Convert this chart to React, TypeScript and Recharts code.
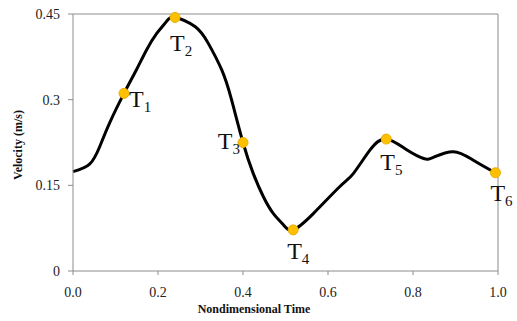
import {
  ComposedChart,
  Line,
  ReferenceLine,
  Scatter,
  XAxis,
  YAxis,
} from "recharts";

// velocity curve
const curveX = [0, 0.039, 0.063, 0.086, 0.12, 0.149, 0.173, 0.197, 0.22, 0.24, 0.287, 0.318, 0.35, 0.373, 0.4, 0.424, 0.448, 0.471, 0.495, 0.518, 0.566, 0.628, 0.66, 0.699, 0.737, 0.786, 0.825, 0.848, 0.895, 0.942, 0.994];
const curveY = [0.174, 0.187, 0.218, 0.259, 0.311, 0.352, 0.387, 0.416, 0.437, 0.444, 0.428, 0.399, 0.352, 0.3, 0.225, 0.171, 0.13, 0.101, 0.081, 0.072, 0.101, 0.148, 0.171, 0.212, 0.231, 0.212, 0.197, 0.199, 0.209, 0.194, 0.172];

// marked time instants T1..T6
const markNames = ["1", "2", "3", "4", "5", "6"];
const markX = [0.12, 0.24, 0.4, 0.518, 0.737, 0.994];
const markY = [0.311, 0.444, 0.225, 0.072, 0.231, 0.172];

const xTicks = [0, 0.2, 0.4, 0.6, 0.8, 1];
const yTicks = [0, 0.15, 0.3, 0.45];

const curve = curveX.map((x, i) => ({ x, v: curveY[i] }));
const marks = markX.map((x, i) => ({ x, v: markY[i], name: markNames[i] }));

// where each T label sits relative to its marker
const labelOffset: Record<string, { dx: number; dy: number; anchor: "start" | "end" }> = {
  "1": { dx: 5, dy: 14, anchor: "start" },
  "2": { dx: -5, dy: 34, anchor: "start" },
  "3": { dx: -3, dy: 6, anchor: "end" },
  "4": { dx: -6, dy: 29, anchor: "start" },
  "5": { dx: -6, dy: 31, anchor: "start" },
  "6": { dx: -5, dy: 28, anchor: "start" },
};

const serif = "Liberation Serif, serif";
const axisGray = "#8c8c8c";

function MarkShape(props: any) {
  const { cx, cy, payload } = props;
  const o = labelOffset[payload.name];
  return (
    <g>
      <circle cx={cx} cy={cy} r={5} fill="#FFC000" stroke="#E9AE00" strokeWidth={1} />
      <text
        x={cx + o.dx}
        y={cy + o.dy}
        textAnchor={o.anchor}
        fontFamily={serif}
        fontSize={24}
        fill="#111"
      >
        T
        <tspan fontSize={15} dy={5}>
          {payload.name}
        </tspan>
      </text>
    </g>
  );
}

const axisTitle = { fontFamily: serif, fontSize: 12, fontWeight: "bold", fill: "#111" } as const;

export default function App() {
  return (
    <div style={{ position: "absolute", left: 0, top: 0, background: "#fff" }}>
      <ComposedChart
        width={517}
        height={321}
        margin={{ top: 14, right: 19, bottom: 0, left: 0 }}
      >
        <XAxis
          dataKey="x"
          type="number"
          domain={[0, 1]}
          ticks={xTicks}
          tickFormatter={(t: number) => t.toFixed(1)}
          stroke={axisGray}
          tickSize={4}
          tickMargin={12}
          height={50}
          tick={{ fill: "#222", fontSize: 14, fontFamily: serif }}
          label={{
            content: () => (
              <text x={254} y={313} textAnchor="middle" {...axisTitle}>
                Nondimensional Time
              </text>
            ),
          }}
        />
        <YAxis
          dataKey="v"
          type="number"
          domain={[0, 0.45]}
          ticks={yTicks}
          stroke={axisGray}
          width={73}
          tickSize={5}
          tickMargin={8}
          tick={{ fill: "#222", fontSize: 14, fontFamily: serif }}
          label={{
            content: () => (
              <text x={22} y={145} textAnchor="middle" transform="rotate(-90 22 145)" {...axisTitle}>
                Velocity (m/s)
              </text>
            ),
          }}
        />
        <ReferenceLine y={0.45} stroke={axisGray} />
        <ReferenceLine x={1} stroke={axisGray} />
        <Line
          data={curve}
          dataKey="v"
          type="natural"
          stroke="#000"
          strokeWidth={3}
          dot={false}
          activeDot={false}
          isAnimationActive={false}
        />
        <Scatter data={marks} dataKey="v" shape={MarkShape} isAnimationActive={false} />
      </ComposedChart>
    </div>
  );
}
